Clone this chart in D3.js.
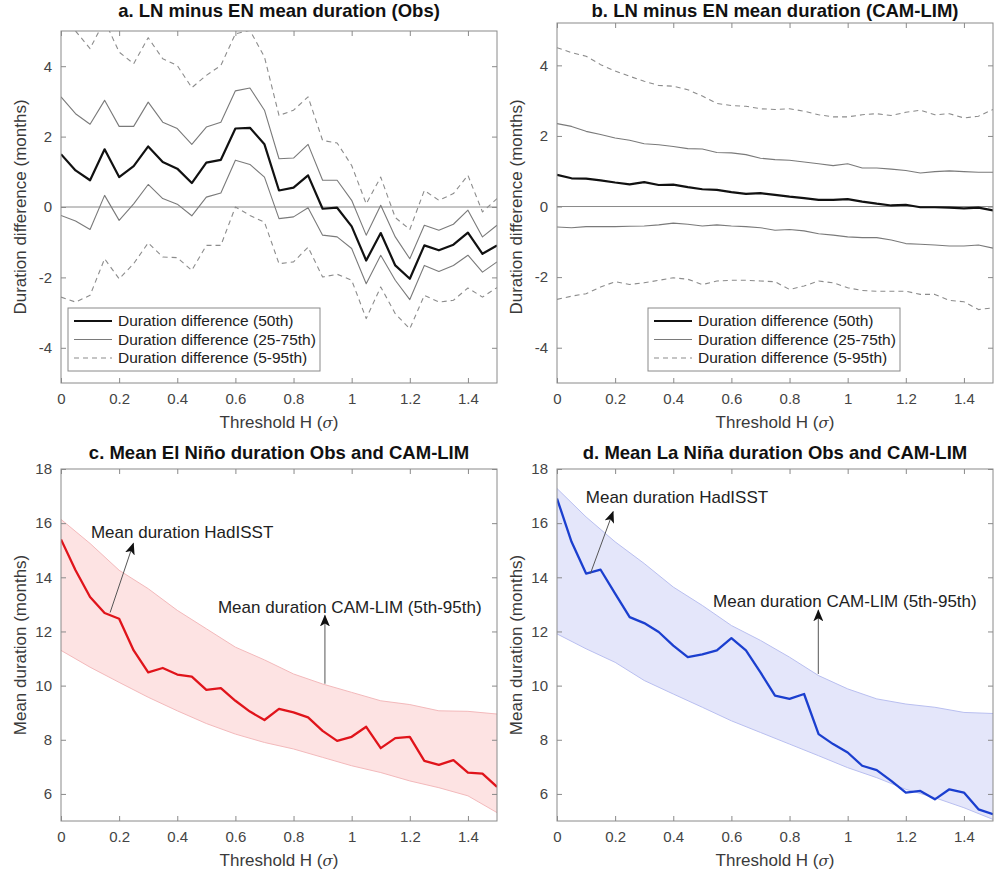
<!DOCTYPE html>
<html>
<head>
<meta charset="utf-8">
<script src="https://cdn.jsdelivr.net/npm/d3@7"></script>
<style>
body { margin: 0; background: #fff; }
text { font-family: "Liberation Sans", Arial, sans-serif; }
</style>
</head>
<body>
<svg id="fig" width="994" height="871"></svg>
<script>
// thresholds H (sigma) for the percentile / obs curves
var thresholds = [0,0.05,0.1,0.15,0.2,0.25,0.3,0.35,0.4,0.45,0.5,0.55,0.6,0.65,0.7,0.75,0.8,0.85,0.9,0.95,1,1.05,1.1,1.15,1.2,1.25,1.3,1.35,1.4,1.45,1.5]
// thresholds at which the CAM-LIM band edges were read
var bandThresholds = [0,0.1,0.2,0.3,0.4,0.5,0.6,0.7,0.8,0.9,1,1.1,1.2,1.3,1.4,1.5]
var xTicks = [0,0.2,0.4,0.6,0.8,1,1.2,1.4]
var diffTicks = [-4,-2,0,2,4]
var durTicks = [6,8,10,12,14,16,18]

// a. obs LN minus EN
var obsP50 = [1.50,1.04,0.76,1.64,0.85,1.16,1.72,1.28,1.09,0.68,1.26,1.34,2.23,2.25,1.78,0.47,0.55,0.90,-0.05,-0.02,-0.55,-1.52,-0.74,-1.66,-2.04,-1.09,-1.23,-1.07,-0.73,-1.33,-1.09]
var obsP75 = [3.13,2.65,2.35,3.03,2.29,2.29,2.98,2.41,2.23,1.78,2.27,2.41,3.30,3.38,2.75,1.37,1.39,1.78,0.76,0.76,0.19,-0.80,0.05,-0.85,-1.47,-0.52,-0.66,-0.49,-0.09,-0.85,-0.52]
var obsP25 = [-0.24,-0.40,-0.64,0.33,-0.38,0.09,0.64,0.24,0.08,-0.25,0.28,0.40,1.33,1.21,0.85,-0.33,-0.28,-0.02,-0.80,-0.85,-1.18,-2.18,-1.37,-2.08,-2.63,-1.66,-1.83,-1.66,-1.37,-1.85,-1.56]
var obsP95 = [5.3,5.0,4.50,5.3,4.40,4.07,4.81,4.21,4.02,3.39,3.74,4.02,4.92,5.02,4.26,2.60,2.75,3.13,1.89,1.82,1.18,0.09,0.85,-0.30,-0.64,0.47,0.19,0.38,0.90,-0.14,0.24]
var obsP5 = [-2.56,-2.70,-2.51,-1.47,-2.04,-1.61,-1.02,-1.42,-1.44,-1.80,-1.09,-1.09,0.00,-0.24,-0.43,-1.61,-1.56,-1.14,-1.99,-1.91,-2.08,-3.17,-2.27,-3.03,-3.46,-2.51,-2.70,-2.65,-2.30,-2.56,-2.29]

// b. CAM-LIM LN minus EN
var limP50 = [0.90,0.80,0.79,0.74,0.68,0.63,0.69,0.61,0.62,0.55,0.49,0.47,0.41,0.36,0.38,0.33,0.28,0.24,0.19,0.19,0.21,0.14,0.08,0.03,0.05,-0.02,-0.02,-0.03,-0.05,-0.03,-0.11]
var limP75 = [2.35,2.27,2.13,2.04,1.94,1.88,1.78,1.75,1.70,1.64,1.63,1.53,1.52,1.47,1.37,1.33,1.31,1.26,1.21,1.16,1.21,1.09,1.09,1.06,1.02,0.95,0.99,1.01,0.99,0.97,0.97]
var limP25 = [-0.58,-0.60,-0.57,-0.57,-0.57,-0.56,-0.55,-0.52,-0.47,-0.50,-0.55,-0.52,-0.55,-0.57,-0.60,-0.67,-0.65,-0.69,-0.77,-0.81,-0.86,-0.88,-0.88,-0.95,-1.05,-1.07,-1.09,-1.12,-1.12,-1.09,-1.18]
var limP95 = [4.50,4.36,4.26,4.02,3.84,3.69,3.55,3.43,3.41,3.31,3.13,2.92,2.86,2.84,2.77,2.75,2.77,2.70,2.60,2.54,2.54,2.60,2.63,2.58,2.67,2.73,2.60,2.63,2.51,2.56,2.75]
var limP5 = [-2.63,-2.54,-2.47,-2.28,-2.13,-2.21,-2.16,-2.09,-2.02,-2.06,-2.21,-2.11,-2.09,-2.09,-2.11,-2.13,-2.35,-2.25,-2.11,-2.16,-2.30,-2.38,-2.40,-2.40,-2.40,-2.49,-2.49,-2.66,-2.70,-2.92,-2.87]

// c. El Nino mean duration
var enObs = [15.40,14.26,13.27,12.68,12.47,11.30,10.49,10.65,10.41,10.33,9.84,9.91,9.44,9.04,8.73,9.14,9.01,8.83,8.33,7.96,8.11,8.48,7.69,8.06,8.11,7.22,7.07,7.25,6.79,6.75,6.26]
var enHi = [16.14,15.25,14.26,13.58,12.78,12.10,11.42,10.95,10.43,10.06,9.75,9.44,9.30,9.07,9.05,8.95]
var enLo = [11.30,10.68,10.12,9.57,9.07,8.60,8.21,7.90,7.66,7.35,7.04,6.79,6.48,6.23,5.93,5.31]

// d. La Nina mean duration
var lnObs = [16.91,15.31,14.14,14.28,13.40,12.53,12.31,11.98,11.48,11.05,11.15,11.30,11.75,11.30,10.49,9.63,9.51,9.69,8.21,7.84,7.53,7.04,6.88,6.48,6.05,6.11,5.80,6.17,6.05,5.43,5.25]
var lnHi = [17.28,16.23,15.31,14.51,13.64,12.96,12.22,11.67,11.05,10.37,9.88,9.51,9.32,9.20,9.01,8.97]
var lnLo = [11.91,11.36,10.86,10.19,9.69,9.20,8.70,8.27,7.84,7.41,6.97,6.60,6.17,5.86,5.49,5.06]

var legendLabels = ["Duration difference (50th)", "Duration difference (25-75th)", "Duration difference (5-95th)"]

var svg = d3.select("#fig")
var defs = svg.append("defs")
defs.append("marker")
    .attr("id", "head")
    .attr("viewBox", "0 0 12 10")
    .attr("refX", 11).attr("refY", 5)
    .attr("markerWidth", 12).attr("markerHeight", 10)
    .attr("markerUnits", "userSpaceOnUse")
    .attr("orient", "auto")
  .append("path")
    .attr("d", "M0,0 L12,5 L0,10 L3,5 Z")
    .attr("fill", "#111")

var fmt = function (d) { return String(+d.toFixed(1)) }

var makePanel = function (id, box, yDomain, yTicks, title, ylabel)
{
    var x = d3.scaleLinear().domain([0, 1.5]).range([box.left, box.right])
    var y = d3.scaleLinear().domain(yDomain).range([box.bottom, box.top])
    var g = svg.append("g")

    defs.append("clipPath").attr("id", "clip-" + id)
      .append("rect")
        .attr("x", box.left).attr("y", box.top)
        .attr("width", box.right - box.left).attr("height", box.bottom - box.top)

    var plot = g.append("g").attr("clip-path", "url(#clip-" + id + ")")

    var styleAxis = function (sel) {
        sel.select(".domain").remove()
        sel.selectAll(".tick line").attr("stroke", "#8a8a8a")
        sel.selectAll(".tick text").attr("fill", "#444").style("font-size", "15px")
            .style("font-family", "'Liberation Sans', Arial, sans-serif")
    }

    g.append("g").attr("transform", "translate(0," + box.bottom + ")")
        .call(d3.axisBottom(x).tickValues(xTicks).tickSize(-5).tickSizeOuter(0).tickPadding(10).tickFormat(fmt))
        .call(styleAxis)
    g.append("g").attr("transform", "translate(0," + box.top + ")")
        .call(d3.axisTop(x).tickValues(xTicks).tickSize(-5).tickSizeOuter(0).tickFormat(""))
        .call(styleAxis)
    g.append("g").attr("transform", "translate(" + box.left + ",0)")
        .call(d3.axisLeft(y).tickValues(yTicks).tickSize(-5).tickSizeOuter(0).tickPadding(9).tickFormat(fmt))
        .call(styleAxis)
    g.append("g").attr("transform", "translate(" + box.right + ",0)")
        .call(d3.axisRight(y).tickValues(yTicks).tickSize(-5).tickSizeOuter(0).tickFormat(""))
        .call(styleAxis)

    g.append("text")
        .attr("x", (box.left + box.right) / 2).attr("y", box.top - 8 + box.titleShift)
        .attr("text-anchor", "middle")
        .style("font-size", "18.5px").style("font-weight", "bold")
        .attr("fill", "#111")
        .text(title)

    var xl = g.append("text")
        .attr("x", (box.left + box.right) / 2).attr("y", box.bottom + 45)
        .attr("text-anchor", "middle")
        .style("font-size", "17px").attr("fill", "#3a3a3a")
    xl.append("tspan").text("Threshold H (")
    xl.append("tspan").style("font-style", "italic").style("font-family", "'DejaVu Serif', serif").style("font-size", "15px").text("σ")
    xl.append("tspan").text(")")

    g.append("text")
        .attr("transform", "translate(" + (box.left - 35) + "," + ((box.top + box.bottom) / 2 + box.ylabelShift) + ") rotate(-90)")
        .attr("text-anchor", "middle")
        .style("font-size", "17px").attr("fill", "#3a3a3a")
        .text(ylabel)

    return { x: x, y: y, g: g, plot: plot, box: box }
}

var boxFrame = function (p)
{
    p.g.append("rect")
        .attr("x", p.box.left).attr("y", p.box.top)
        .attr("width", p.box.right - p.box.left).attr("height", p.box.bottom - p.box.top)
        .attr("fill", "none").attr("stroke", "#8a8a8a").attr("stroke-width", 1)
}

var seriesLine = function (p, xs, ys, stroke, width, dash)
{
    var line = d3.line().x(function (d, i) { return p.x(xs[i]) }).y(function (d) { return p.y(d) })
    p.plot.append("path")
        .datum(ys)
        .attr("d", line)
        .attr("fill", "none")
        .attr("stroke", stroke)
        .attr("stroke-width", width)
        .attr("stroke-linejoin", "round")
        .attr("stroke-dasharray", dash || null)
}

var diffPanel = function (id, box, yDomain, p50, p25, p75, p5, p95, title)
{
    var p = makePanel(id, box, yDomain, diffTicks, title, "Duration difference (months)")
    p.plot.append("line")
        .attr("x1", p.x(0)).attr("x2", p.x(1.5))
        .attr("y1", p.y(0)).attr("y2", p.y(0))
        .attr("stroke", "#8a8a8a").attr("stroke-width", 1)
    seriesLine(p, thresholds, p5, "#8c8c8c", 1.1, "5,4")
    seriesLine(p, thresholds, p95, "#8c8c8c", 1.1, "5,4")
    seriesLine(p, thresholds, p25, "#7a7a7a", 1.1)
    seriesLine(p, thresholds, p75, "#7a7a7a", 1.1)
    seriesLine(p, thresholds, p50, "#111", 2.2)
    boxFrame(p)

    // legend
    var lg = p.g.append("g").attr("transform", "translate(" + box.legendX + "," + box.legendY + ")")
    lg.append("rect").attr("width", 252).attr("height", 63)
        .attr("fill", "#fff").attr("stroke", "#8a8a8a")
    var styles = [["#111", 2.2, null], ["#7a7a7a", 1.1, null], ["#8c8c8c", 1.1, "5,4"]]
    legendLabels.forEach(function (lab, i) {
        var yy = 13 + i * 18.5
        lg.append("line").attr("x1", 6).attr("x2", 44).attr("y1", yy).attr("y2", yy)
            .attr("stroke", styles[i][0]).attr("stroke-width", styles[i][1])
            .attr("stroke-dasharray", styles[i][2])
        lg.append("text").attr("x", 50).attr("y", yy + 5)
            .style("font-size", "15.5px").attr("fill", "#222").text(lab)
    })
    return p
}

var durPanel = function (id, box, obs, lo, hi, lineColor, fillColor, edgeColor, title, notes)
{
    var p = makePanel(id, box, [5, 18], durTicks, title, "Mean duration (months)")
    var area = d3.area()
        .x(function (d, i) { return p.x(bandThresholds[i]) })
        .y0(function (d, i) { return p.y(lo[i]) })
        .y1(function (d) { return p.y(d) })
    p.plot.append("path").datum(hi).attr("d", area).attr("fill", fillColor)
    seriesLine(p, bandThresholds, hi, edgeColor, 1)
    seriesLine(p, bandThresholds, lo, edgeColor, 1)
    seriesLine(p, thresholds, obs, lineColor, 2.3)
    boxFrame(p)

    notes.forEach(function (n) {
        p.g.append("line")
            .attr("x1", p.x(n.from[0])).attr("y1", p.y(n.from[1]))
            .attr("x2", p.x(n.to[0])).attr("y2", p.y(n.to[1]))
            .attr("stroke", "#555").attr("stroke-width", 1)
            .attr("marker-end", "url(#head)")
        p.g.append("text")
            .attr("x", p.x(n.at[0])).attr("y", p.y(n.at[1]) + 6)
            .style("font-size", "17px").attr("fill", "#222")
            .text(n.label)
    })
    return p
}

diffPanel("a", { left: 61, right: 497, top: 31, bottom: 383, legendX: 68, legendY: 308, titleShift: -6, ylabelShift: 0 },
    [-5, 5], obsP50, obsP25, obsP75, obsP5, obsP95, "a. LN minus EN mean duration (Obs)")
diffPanel("b", { left: 557, right: 993, top: 23, bottom: 383, legendX: 648, legendY: 308, titleShift: 2, ylabelShift: 4 },
    [-5, 5.2], limP50, limP25, limP75, limP5, limP95, "b. LN minus EN mean duration (CAM-LIM)")

durPanel("c", { left: 61, right: 497, top: 469, bottom: 821, titleShift: -2, ylabelShift: 0 },
    enObs, enLo, enHi, "#e0141b", "#fde3e3", "#f3b9bb", "c. Mean El Niño duration Obs and CAM-LIM",
    [{ label: "Mean duration HadISST", at: [0.103, 15.67], from: [0.169, 12.70], to: [0.249, 15.25] },
     { label: "Mean duration CAM-LIM (5th-95th)", at: [0.54, 12.89], from: [0.908, 10.07], to: [0.908, 12.59] }])
durPanel("d", { left: 557, right: 993, top: 469, bottom: 821, titleShift: -2, ylabelShift: 0 },
    lnObs, lnLo, lnHi, "#1b3fcf", "#e4e6fa", "#b9bff0", "d. Mean La Niña duration Obs and CAM-LIM",
    [{ label: "Mean duration HadISST", at: [0.099, 16.97], from: [0.115, 14.14], to: [0.193, 16.42] },
     { label: "Mean duration CAM-LIM (5th-95th)", at: [0.537, 13.12], from: [0.899, 10.43], to: [0.899, 12.78] }])
</script>
</body>
</html>
